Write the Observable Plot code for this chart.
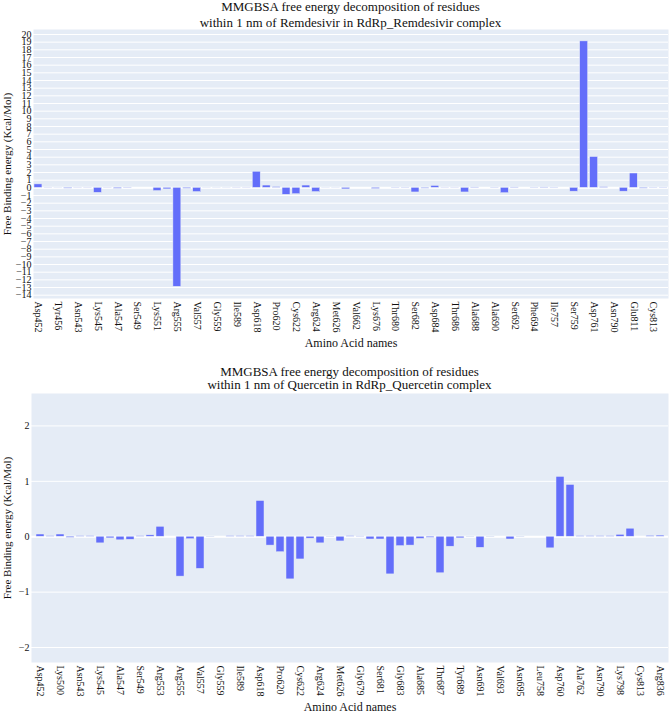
<!DOCTYPE html>
<html>
<head>
<meta charset="utf-8">
<script src="https://cdn.jsdelivr.net/npm/d3@7"></script>
<script src="https://cdn.jsdelivr.net/npm/@observablehq/plot@0.6"></script>
<style>
  body { margin: 0; background: #ffffff; }
  #root { position: relative; width: 670px; height: 713px; overflow: hidden; font-family: "Liberation Serif", "Times New Roman", serif; color: #111; }
  .title { position: absolute; left: 33px; width: 635px; text-align: center; font-size: 13px; white-space: nowrap; }
  .chart { position: absolute; left: 0; }
  .chart text { font-family: "Liberation Serif", "Times New Roman", serif; }
</style>
</head>
<body>
<div id="root"></div>
<script>
// ---- Chart 1: Remdesivir ----
const remTitle = ["MMGBSA free energy decomposition of residues", "within 1 nm of Remdesivir in RdRp_Remdesivir complex"];
const remResidues = [
  "Asp452","Tyr455","Tyr456","Lys500","Asn543","Leu544","Lys545","Tyr546","Ala547","Ile548",
  "Ser549","Ala550","Lys551","Arg553","Arg555","Thr556","Val557","Ala558","Gly559","Val588",
  "Ile589","Trp617","Asp618","Tyr619","Pro620","Lys621","Cys622","Asp623","Arg624","Ala625",
  "Met626","Pro627","Val662","Ser664","Lys676","Gly679","Thr680","Ser681","Ser682","Gly683",
  "Asp684","Ala685","Thr686","Thr687","Ala688","Tyr689","Ala690","Asn691","Ser692","Val693",
  "Phe694","Asn695","Ile757","Leu758","Ser759","Asp760","Asp761","Ala762","Asn790","Lys798",
  "Glu811","Phe812","Cys813","Ser814"
];
const remEnergy = [
  0.45, 0.02, 0.01, -0.10, 0.02, 0.02, -0.65, 0.02, -0.12, 0.04,
  0.00, 0.00, -0.42, -0.20, -12.9, -0.12, -0.55, 0.01, 0.01, 0.01,
  0.02, 0.02, 2.10, 0.30, 0.10, -0.90, -0.83, 0.30, -0.55, 0.01,
  0.01, -0.20, 0.00, 0.00, -0.15, 0.00, 0.03, 0.03, -0.60, -0.10,
  0.25, 0.02, 0.02, -0.60, 0.05, 0.00, 0.03, -0.70, 0.05, 0.00,
  0.03, 0.05, 0.03, 0.00, -0.50, 19.1, 4.02, 0.08, 0.00, -0.50,
  1.87, -0.10, 0.03, 0.03
];
const remTickLabels = remResidues.filter((d, i) => i % 2 === 0);
const remYTicks = d3.range(-14, 21, 1);
const remYDomain = [-14.43, 20.65];

// ---- Chart 2: Quercetin ----
const queTitle = ["MMGBSA free energy decomposition of residues", "within 1 nm of Quercetin in RdRp_Quercetin complex"];
const queResidues = [
  "Asp452","Tyr456","Lys500","Asn507","Asn543","Leu544","Lys545","Tyr546","Ala547","Ile548",
  "Ser549","Lys551","Arg553","Ala554","Arg555","Thr556","Val557","Ala558","Gly559","Val588",
  "Ile589","Trp617","Asp618","Tyr619","Pro620","Lys621","Cys622","Asp623","Arg624","Ala625",
  "Met626","Lys676","Gly679","Thr680","Ser681","Ser682","Gly683","Asp684","Ala685","Thr686",
  "Thr687","Ala688","Tyr689","Ala690","Asn691","Ser692","Val693","Phe694","Asn695","Ile757",
  "Leu758","Ser759","Asp760","Asp761","Ala762","Lys780","Asn790","Lys795","Lys798","Glu811",
  "Cys813","Ser814","Arg836"
];
const queEnergy = [
  0.04, 0.01, 0.04, -0.02, 0.01, 0.01, -0.12, -0.03, -0.065, -0.055,
  0.01, 0.025, 0.18, 0.00, -0.72, -0.045, -0.58, -0.01, 0.00, 0.01,
  0.01, 0.01, 0.645, -0.16, -0.28, -0.77, -0.41, -0.035, -0.12, -0.01,
  -0.085, 0.01, 0.005, -0.05, -0.05, -0.68, -0.17, -0.16, -0.04, -0.02,
  -0.66, -0.18, -0.03, -0.01, -0.20, -0.01, 0.00, -0.05, -0.01, 0.00,
  0.00, -0.21, 1.08, 0.935, 0.01, 0.01, 0.01, 0.01, 0.035, 0.145,
  0.00, 0.015, 0.02
];
const queTickLabels = queResidues.filter((d, i) => i % 2 === 0);
const queYTicks = d3.range(-2, 3, 1);
const queYDomain = [-2.27, 2.585];

const xTitle = "Amino Acid names";
const yTitle = "Free Binding energy (Kcal/Mol)";
const barColor = "#636efa";
const panelColor = "#e5ecf6";
const serif = '"Liberation Serif", "Times New Roman", serif';

function makeChart({residues, energy, tickLabels, yTicks, yDomain, marginLeft}) {
  const data = residues.map((r, i) => ({residue: r, energy: energy[i]}));
  return Plot.plot({
    width: 670,
    height: 330,
    marginTop: 6,
    marginBottom: 55,
    marginLeft: marginLeft,
    marginRight: 2,
    style: {fontFamily: serif, fontSize: "10px", color: "#111", background: "transparent"},
    x: {type: "band", domain: residues, paddingInner: 0.2, paddingOuter: 0.1, label: null},
    y: {domain: yDomain, label: null},
    marks: [
      Plot.frame({fill: panelColor, stroke: "none"}),
      Plot.gridY(yTicks, {stroke: "white", strokeOpacity: 1, strokeWidth: 1}),
      Plot.ruleY([0], {stroke: "white", strokeWidth: 2}),
      Plot.barY(data, {x: "residue", y: "energy", fill: barColor, stroke: panelColor, strokeWidth: 0.5}),
      Plot.axisY(yTicks, {tickSize: 0, tickPadding: 2, label: null, tickFormat: d3.format("d"), fontSize: 10}),
      Plot.axisX(tickLabels, {tickSize: 0, tickPadding: 3, tickRotate: 90, label: null, fontSize: 10}),
      Plot.text([yTitle], {frameAnchor: "left", textAnchor: "middle", lineAnchor: "middle", rotate: -90, dx: -(marginLeft - 7), fontSize: 11, fontFamily: serif, fill: "#111"}),
      Plot.text([xTitle], {frameAnchor: "bottom", textAnchor: "middle", lineAnchor: "middle", dy: 44.7, fontSize: 12, fontFamily: serif, fill: "#111"})
    ]
  });
}

const root = document.getElementById("root");

function addTitle(lines, top, lineHeight, left, width) {
  const div = document.createElement("div");
  div.className = "title";
  div.style.top = top + "px";
  div.style.left = left + "px";
  div.style.width = width + "px";
  div.style.lineHeight = lineHeight + "px";
  div.innerHTML = lines.map(l => `<div>${l}</div>`).join("");
  root.appendChild(div);
}

addTitle(remTitle, -1, 15.7, 33, 635);
const c1 = makeChart({residues: remResidues, energy: remEnergy, tickLabels: remTickLabels, yTicks: remYTicks, yDomain: remYDomain, marginLeft: 33});
c1.classList.add("chart");
c1.style.top = "23px";
root.appendChild(c1);

addTitle(queTitle, 365, 13, 31, 637);
const c2 = makeChart({residues: queResidues, energy: queEnergy, tickLabels: queTickLabels, yTicks: queYTicks, yDomain: queYDomain, marginLeft: 31});
c2.classList.add("chart");
c2.style.top = "387px";
root.appendChild(c2);
</script>
</body>
</html>
